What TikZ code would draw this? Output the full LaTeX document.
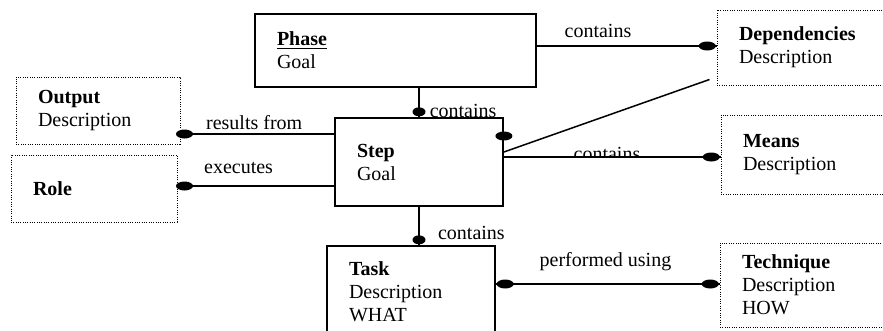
\documentclass[tikz,border=0pt]{standalone}
\usepackage{fontspec}
\setmainfont{Liberation Serif}
\usetikzlibrary{shapes.geometric}

\begin{document}
\begin{tikzpicture}[
  x=0.6pt, y=-0.6pt,
  font=\fontsize{12}{13.8}\selectfont,
  entity/.style={draw, line width=1.1pt, align=left, inner xsep=13.2pt, inner ysep=0pt},
  external/.style={draw, line width=0.6pt, dash pattern=on 0.6pt off 0.8pt, align=left, inner xsep=13.2pt, inner ysep=0pt},
  link/.style={line width=0.9pt},
  dot/.style={ellipse, fill, inner sep=0pt, minimum width=10.2pt, minimum height=5.4pt},
  vdot/.style={ellipse, fill, inner sep=0pt, minimum width=7.8pt, minimum height=5.4pt, anchor=south},
  rel/.style={inner sep=0pt, anchor=base}
]
\useasboundingbox (0,0) rectangle (883,331);

\node[entity, text width=142.2pt, minimum height=43.8pt] (phase) at (395.5,50.5) {\underline{\textbf{Phase}}\\Goal};
\node[external, text width=75.6pt, minimum height=45pt] (deps) at (802,47.5) {\textbf{Dependencies}\\Description};
\node[entity, text width=74.4pt, minimum height=52.8pt] (step) at (419,162) {\textbf{Step}\\Goal};
\node[external, text width=72pt, minimum height=40.2pt] (output) at (98,110.5) {\textbf{Output}\\Description};
\node[external, text width=73.2pt, minimum height=40.2pt] (role) at (94,188.5) {\textbf{Role}};
\node[external, text width=73.2pt, minimum height=47.4pt] (means) at (804,154.5) {\textbf{Means}\\Description};
\node[entity, text width=74.4pt, minimum height=55.2pt] (task) at (411,292) {\textbf{Task}\\Description\\WHAT};
\node[external, text width=73.8pt, minimum height=50.4pt] (technique) at (803.5,285) {\textbf{Technique}\\Description\\HOW};

% phase - dependencies
\coordinate (pd) at ([yshift=2.7pt]phase.east);
\draw[link] (pd) -- (pd -| deps.west) node[dot, anchor=east] (d1) {}
  node[rel, pos=0.34, yshift=5.4pt] (l1) {contains};

% output and role - step
\coordinate (so) at ([yshift=16.8pt]step.west);
\draw[link] (so -| output.east) node[dot, xshift=2.4pt] (d2) {} -- (so)
  node[rel, pos=0.48, yshift=3pt] (l2) {results from};
\coordinate (sr) at ([yshift=-14.4pt]step.west);
\draw[link] (sr -| role.east) node[dot, xshift=4.2pt] (d3) {} -- (sr)
  node[rel, pos=0.39, yshift=7.8pt] (l3) {executes};

% phase - step
\draw[link] (step.north |- phase.south) -- (step.north) node[vdot] (d4) {}
  node[rel, anchor=base west, xshift=6pt] (l4) {contains};

% step - means
\coordinate (sm) at ([yshift=3pt]step.east);
\draw[link] (sm) -- (sm -| means.west) node[dot, anchor=east] (d5) {};
\begin{scope}
  \clip (sm) rectangle ++(218,-30);
  \node[rel] (l5) at (607,160) {contains};
\end{scope}

% step - dependencies
\node[dot] (d6) at ([yshift=15.6pt]step.east) {};
\draw[link] ([yshift=6pt]step.east) -- ([xshift=-4.2pt, yshift=3.6pt]deps.south west);

% step - task
\draw[link] (step.south) -- (step.south |- task.north) node[vdot] (d7) {}
  node[rel, anchor=base west, xshift=11pt, yshift=3.6pt] (l7) {contains};

% task - technique
\coordinate (tt) at ([yshift=4.8pt]task.east);
\draw[link] (tt) node[dot, anchor=west] (d8) {} -- (tt -| technique.west)
  node[dot, anchor=east] (d9) {} node[rel, pos=0.49, yshift=10.8pt] (l8) {performed using};
\end{tikzpicture}
\end{document}
